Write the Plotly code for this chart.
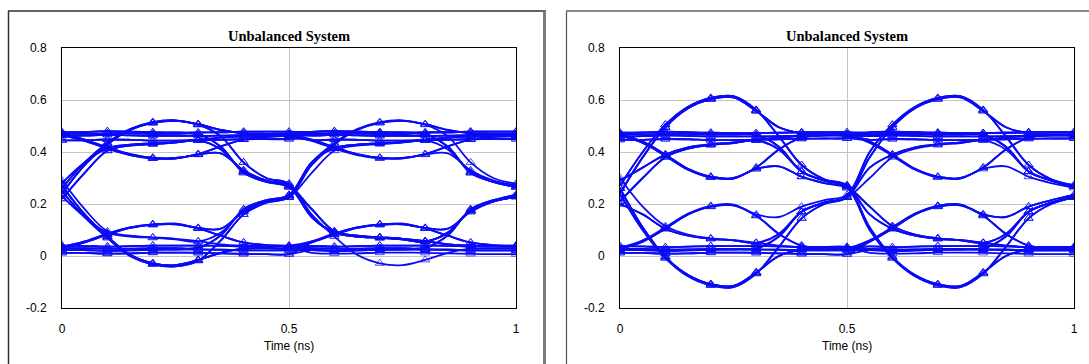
import plotly.graph_objects as go

# ---------------- data ----------------
time_ns = [0.0, 0.05, 0.1, 0.15, 0.2, 0.25, 0.3, 0.35, 0.4, 0.45, 0.5,
           0.55, 0.6, 0.65, 0.7, 0.75, 0.8, 0.85, 0.9, 0.95, 1.0]
marker_times = [0.0, 0.1, 0.2, 0.3, 0.4, 0.5, 0.6, 0.7, 0.8, 0.9, 1.0]

x_tick_vals = [0, 0.5, 1]
x_tick_text = ["0", "0.5", "1"]
y_tick_vals = [-0.2, 0, 0.2, 0.4, 0.6, 0.8]
y_tick_text = ["-0.2", "0", "0.2", "0.4", "0.6", "0.8"]

titles = ["Unbalanced System", "Unbalanced System"]
x_title = "Time (ns)"

# waveform segments over one 0.5 ns unit interval (values read at 0.05 ns steps)
# ---- left chart ----
a_hh1 = [0.476, 0.477, 0.48, 0.478, 0.476, 0.475, 0.475, 0.476, 0.478, 0.478, 0.478]
a_hh2 = [0.462, 0.463, 0.466, 0.464, 0.462, 0.462, 0.462, 0.463, 0.465, 0.465, 0.465]
a_hh3 = [0.445, 0.445, 0.448, 0.447, 0.444, 0.444, 0.445, 0.447, 0.449, 0.45, 0.45]
a_hump_h = [0.24, 0.35, 0.43, 0.485, 0.512, 0.52, 0.507, 0.485, 0.472, 0.47, 0.47]
a_hump_f = [0.26, 0.36, 0.435, 0.488, 0.515, 0.522, 0.505, 0.46, 0.36, 0.30, 0.278]
a_mid_f = [0.22, 0.32, 0.405, 0.425, 0.43, 0.436, 0.445, 0.41, 0.325, 0.29, 0.272]
a_mid_h = [0.28, 0.36, 0.415, 0.428, 0.433, 0.438, 0.447, 0.455, 0.46, 0.462, 0.463]
a_dip_h = [0.47, 0.448, 0.418, 0.392, 0.378, 0.377, 0.392, 0.422, 0.448, 0.458, 0.46]
a_dip_f = [0.465, 0.443, 0.413, 0.388, 0.375, 0.375, 0.39, 0.395, 0.33, 0.29, 0.268]
a_h_f = [0.47, 0.47, 0.472, 0.472, 0.47, 0.47, 0.468, 0.42, 0.32, 0.285, 0.265]
a_ll1 = [0.024, 0.023, 0.02, 0.022, 0.024, 0.025, 0.025, 0.024, 0.022, 0.022, 0.022]
a_ll2 = [0.04, 0.039, 0.036, 0.038, 0.04, 0.04, 0.04, 0.039, 0.037, 0.037, 0.037]
a_ll3 = [0.012, 0.012, 0.009, 0.01, 0.013, 0.013, 0.012, 0.01, 0.008, 0.007, 0.007]
a_ldip_l = [0.27, 0.16, 0.075, 0.005, -0.028, -0.035, -0.015, 0.012, 0.028, 0.03, 0.03]
a_ldip_r = [0.25, 0.15, 0.07, 0.0, -0.032, -0.04, -0.018, 0.06, 0.16, 0.205, 0.225]
a_lmid_r = [0.23, 0.15, 0.09, 0.075, 0.07, 0.064, 0.055, 0.09, 0.175, 0.21, 0.228]
a_lmid_l = [0.29, 0.18, 0.095, 0.078, 0.072, 0.066, 0.057, 0.045, 0.04, 0.038, 0.037]
a_bump_l = [0.03, 0.052, 0.082, 0.108, 0.12, 0.122, 0.106, 0.078, 0.052, 0.042, 0.04]
a_bump_r = [0.035, 0.056, 0.086, 0.11, 0.122, 0.124, 0.108, 0.105, 0.17, 0.21, 0.232]
a_l_r = [0.03, 0.03, 0.028, 0.028, 0.03, 0.03, 0.032, 0.08, 0.18, 0.215, 0.235]

# ---- right chart ----
b_hh1 = [0.474, 0.475, 0.478, 0.476, 0.474, 0.473, 0.473, 0.474, 0.476, 0.476, 0.476]
b_hh2 = [0.46, 0.461, 0.464, 0.462, 0.46, 0.46, 0.46, 0.461, 0.463, 0.463, 0.463]
b_hh3 = [0.447, 0.447, 0.45, 0.449, 0.446, 0.446, 0.447, 0.449, 0.451, 0.452, 0.452]
b_hump_h = [0.24, 0.38, 0.495, 0.568, 0.603, 0.61, 0.558, 0.495, 0.472, 0.468, 0.468]
b_hump_f = [0.27, 0.40, 0.505, 0.574, 0.608, 0.615, 0.562, 0.46, 0.35, 0.295, 0.272]
b_mid_f = [0.21, 0.30, 0.38, 0.413, 0.427, 0.434, 0.445, 0.41, 0.325, 0.29, 0.268]
b_mid_h = [0.29, 0.34, 0.39, 0.418, 0.43, 0.437, 0.447, 0.455, 0.462, 0.465, 0.465]
b_dip_h = [0.468, 0.44, 0.39, 0.335, 0.305, 0.30, 0.34, 0.41, 0.455, 0.465, 0.465]
b_dip_f = [0.462, 0.435, 0.385, 0.332, 0.302, 0.298, 0.335, 0.345, 0.305, 0.28, 0.262]
b_h_f = [0.468, 0.468, 0.47, 0.47, 0.468, 0.468, 0.466, 0.42, 0.325, 0.29, 0.268]
b_ll1 = [0.024, 0.023, 0.02, 0.022, 0.024, 0.025, 0.025, 0.024, 0.022, 0.022, 0.022]
b_ll2 = [0.038, 0.037, 0.034, 0.036, 0.038, 0.038, 0.038, 0.037, 0.035, 0.035, 0.035]
b_ll3 = [0.012, 0.012, 0.009, 0.01, 0.013, 0.013, 0.012, 0.01, 0.008, 0.007, 0.007]
b_ldip_l = [0.26, 0.11, -0.003, -0.073, -0.108, -0.115, -0.063, 0.0, 0.025, 0.027, 0.027]
b_ldip_r = [0.24, 0.10, -0.008, -0.078, -0.113, -0.12, -0.068, 0.035, 0.145, 0.2, 0.225]
b_lmid_r = [0.20, 0.16, 0.105, 0.078, 0.066, 0.06, 0.05, 0.085, 0.17, 0.205, 0.227]
b_lmid_l = [0.30, 0.19, 0.115, 0.082, 0.068, 0.061, 0.051, 0.04, 0.033, 0.03, 0.03]
b_bump_l = [0.027, 0.055, 0.105, 0.16, 0.19, 0.195, 0.155, 0.085, 0.04, 0.03, 0.03]
b_bump_r = [0.032, 0.06, 0.11, 0.163, 0.193, 0.198, 0.16, 0.15, 0.19, 0.215, 0.235]
b_l_r = [0.027, 0.027, 0.025, 0.025, 0.027, 0.027, 0.029, 0.075, 0.17, 0.205, 0.227]

# which segment is followed by which in each trace (first UI, second UI)
recipes_a = [
    ("hh1", "hh1"), ("hh2", "hh3"), ("hh3", "dip_h"), ("hh1", "h_f"), ("hh2", "hh2"),
    ("hump_h", "hh2"), ("hump_h", "dip_h"), ("hump_f", "ldip_l"), ("hump_f", "lmid_r"),
    ("mid_f", "lmid_l"), ("mid_f", "lmid_r"), ("mid_h", "hh1"), ("mid_h", "h_f"),
    ("dip_h", "dip_f"), ("dip_f", "lmid_l"), ("h_f", "lmid_r"), ("h_f", "lmid_l"),
    ("ll1", "ll1"), ("ll2", "ll3"), ("ll3", "bump_l"), ("ll1", "l_r"), ("ll2", "ll2"),
    ("ldip_l", "ll2"), ("ldip_l", "bump_r"), ("ldip_r", "hump_h"), ("ldip_r", "mid_f"),
    ("lmid_r", "mid_h"), ("lmid_l", "ll1"), ("bump_l", "bump_r"), ("bump_r", "hump_f"),
    ("l_r", "mid_h"), ("bump_l", "l_r"), ("l_r", "hump_h"), ("dip_h", "hh3"),
    ("hump_h", "h_f"), ("ldip_l", "bump_l"), ("hh3", "hh1"), ("ll3", "ll1"),
    ("dip_f", "lmid_r"), ("bump_r", "mid_h"),
]
recipes_b = [
    ("hh1", "hh1"), ("hh2", "hh3"), ("hh3", "dip_h"), ("hh1", "h_f"), ("hh2", "hh2"),
    ("hump_h", "hh2"), ("hump_h", "dip_h"), ("hump_f", "ldip_l"), ("hump_f", "lmid_r"),
    ("mid_f", "lmid_l"), ("mid_f", "ldip_r"), ("mid_h", "hh1"), ("mid_h", "h_f"),
    ("dip_h", "dip_f"), ("dip_f", "lmid_l"), ("h_f", "lmid_r"), ("h_f", "ldip_l"),
    ("ll1", "ll1"), ("ll2", "ll3"), ("ll3", "bump_l"), ("ll1", "l_r"), ("ll2", "ll2"),
    ("ldip_l", "ll2"), ("ldip_l", "bump_r"), ("ldip_r", "hump_h"), ("ldip_r", "mid_f"),
    ("lmid_r", "mid_h"), ("lmid_l", "ll1"), ("bump_l", "bump_r"), ("bump_r", "hump_f"),
    ("l_r", "mid_h"), ("bump_l", "l_r"), ("l_r", "hump_h"), ("dip_h", "hh3"),
    ("hump_h", "h_f"), ("ldip_l", "bump_l"), ("lmid_r", "hump_f"), ("dip_f", "ldip_r"),
    ("hh3", "hh1"), ("ll3", "ll1"),
]

segs_a = dict(hh1=a_hh1, hh2=a_hh2, hh3=a_hh3, hump_h=a_hump_h, hump_f=a_hump_f,
              mid_f=a_mid_f, mid_h=a_mid_h, dip_h=a_dip_h, dip_f=a_dip_f, h_f=a_h_f,
              ll1=a_ll1, ll2=a_ll2, ll3=a_ll3, ldip_l=a_ldip_l, ldip_r=a_ldip_r,
              lmid_r=a_lmid_r, lmid_l=a_lmid_l, bump_l=a_bump_l, bump_r=a_bump_r, l_r=a_l_r)
segs_b = dict(hh1=b_hh1, hh2=b_hh2, hh3=b_hh3, hump_h=b_hump_h, hump_f=b_hump_f,
              mid_f=b_mid_f, mid_h=b_mid_h, dip_h=b_dip_h, dip_f=b_dip_f, h_f=b_h_f,
              ll1=b_ll1, ll2=b_ll2, ll3=b_ll3, ldip_l=b_ldip_l, ldip_r=b_ldip_r,
              lmid_r=b_lmid_r, lmid_l=b_lmid_l, bump_l=b_bump_l, bump_r=b_bump_r, l_r=b_l_r)

# ---------------- figure ----------------
W, H = 1089, 364
BLUE = "#0a0af5"
mt = [round(m, 3) for m in marker_times]
marker_sizes = [8 if round(t, 3) in mt else 0 for t in time_ns]

fig = go.Figure()
for segs, recipes, xa, ya in [(segs_a, recipes_a, "x", "y"), (segs_b, recipes_b, "x2", "y2")]:
    for s1, s2 in recipes:
        yv = segs[s1] + segs[s2][1:]
        fig.add_trace(go.Scatter(
            x=time_ns, y=yv, xaxis=xa, yaxis=ya, mode="lines+markers",
            line=dict(color=BLUE, width=1.8, shape="spline", smoothing=1.0),
            marker=dict(symbol="triangle-up-open", size=marker_sizes, color=BLUE,
                        line=dict(width=1, color=BLUE)),
            showlegend=False, hoverinfo="skip"))

def px_x(p):
    return p / W

def px_y(p):
    return 1 - p / H

ydom = [px_y(308), px_y(48)]
tickfont = dict(family="Liberation Sans, Arial, sans-serif", size=12, color="#000000")
common_x = dict(range=[0, 1], tickvals=x_tick_vals, ticktext=x_tick_text, showgrid=True,
                gridcolor="#c4c4c4", gridwidth=1, showline=True, linecolor="#000000",
                linewidth=1, mirror=True, ticks="", zeroline=False, tickfont=tickfont,
                ticklabelstandoff=10, fixedrange=True, automargin=False)
common_y = dict(range=[-0.2, 0.8], tickvals=y_tick_vals, ticktext=y_tick_text, showgrid=True,
                gridcolor="#c4c4c4", gridwidth=1, showline=True, linecolor="#000000",
                linewidth=1, mirror=True, ticks="", zeroline=False, tickfont=tickfont,
                ticklabelstandoff=12, fixedrange=True, domain=ydom, automargin=False)

fig.update_layout(
    width=W, height=H, margin=dict(l=0, r=0, t=0, b=0, pad=0, autoexpand=False),
    autosize=False, paper_bgcolor="white", plot_bgcolor="white",
    xaxis=dict(domain=[px_x(62), px_x(516)], anchor="y", **common_x),
    yaxis=dict(anchor="x", **common_y),
    xaxis2=dict(domain=[px_x(620), px_x(1074)], anchor="y2", **common_x),
    yaxis2=dict(anchor="x2", **common_y),
)

top = px_y(11)
shapes = [
    dict(type="line", xref="paper", yref="paper", x0=px_x(8.5), x1=px_x(8.5), y0=-0.05, y1=top,
         line=dict(color="#303030", width=1.5)),
    dict(type="line", xref="paper", yref="paper", x0=px_x(8), x1=px_x(546), y0=top, y1=top,
         line=dict(color="#303030", width=1.5)),
    dict(type="line", xref="paper", yref="paper", x0=px_x(544.5), x1=px_x(544.5), y0=-0.05, y1=top,
         line=dict(color="#7a7a7a", width=3)),
    dict(type="line", xref="paper", yref="paper", x0=px_x(566.5), x1=px_x(566.5), y0=-0.05, y1=top,
         line=dict(color="#505050", width=1.2)),
    dict(type="line", xref="paper", yref="paper", x0=px_x(566), x1=1.02, y0=top, y1=top,
         line=dict(color="#8a8a8a", width=2)),
]
fig.update_layout(shapes=shapes)

annotations = []
for cx, ttl in zip([289, 847], titles):
    annotations.append(dict(x=px_x(cx), y=px_y(36), xref="paper", yref="paper",
                            text="<b>" + ttl + "</b>", showarrow=False,
                            font=dict(family="Liberation Serif, Times New Roman, serif",
                                      size=14.5, color="#000000"),
                            xanchor="center", yanchor="middle"))
    annotations.append(dict(x=px_x(cx), y=px_y(346), xref="paper", yref="paper",
                            text=x_title, showarrow=False,
                            font=dict(family="Liberation Sans, Arial, sans-serif",
                                      size=12, color="#000000"),
                            xanchor="center", yanchor="middle"))
fig.update_layout(annotations=annotations)

fig.write_html("out.html", config={"displayModeBar": False})
